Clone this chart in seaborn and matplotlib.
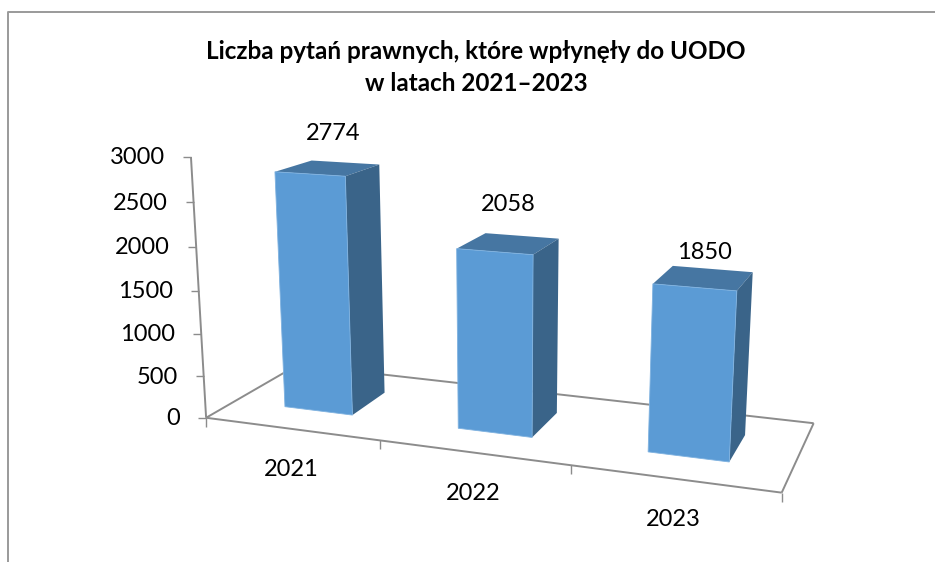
import numpy as np
import pandas as pd
import seaborn as sns
import matplotlib
matplotlib.use("Agg")
import matplotlib.pyplot as plt
from matplotlib.patches import Polygon
from matplotlib.transforms import Affine2D, Transform

years = ["2021", "2022", "2023"]
questions = [2774, 2058, 1850]
y_ticks = [0, 500, 1000, 1500, 2000, 2500, 3000]
title = "Liczba pytań prawnych, które wpłynęły do UODO\nw latach 2021–2023"

# label shift from the middle of the bar's back top edge, Excel places them a bit unevenly
label_shift = [(-12, -29), (-13, -31), (-8, -17)]

# 3d view of the chart: (category, value / 3000, depth, 1) -> screen pixels
camera = np.array([[160.550008, -24.940019, 131.382901, 291.085965],
                   [3.032919, -274.500593, -7.875649, 428.821908],
                   [-0.045668, -0.049455, 0.126706, 1.0]])
z0, z1 = 0.3, 0.7
bar_width = 0.4


def project(x, y, z):
    x, y = np.asarray(x, float), np.asarray(y, float) / 3000
    pts = np.stack([x, y, np.full_like(x, z), np.ones_like(x)])
    u, v, d = camera @ pts
    return np.column_stack([u / d, v / d])


class ChartPlane(Transform):
    input_dims = 2
    output_dims = 2

    def __init__(self, z):
        super().__init__()
        self.z = z

    def transform_non_affine(self, values):
        return project(values[:, 0], values[:, 1], self.z)


sns.set_theme(style="white")
plt.rcParams["font.family"] = ["Lato", "DejaVu Sans"]

fig, ax = plt.subplots(figsize=(9.35, 5.62), dpi=100)
fig.subplots_adjust(0, 0, 1, 1)
ax.set_axis_off()

to_screen = Affine2D().scale(1, -1).translate(0, 562)
grey = "#8c8c8c"


def line(points, lw=1.4, color=grey):
    points = np.asarray(points)
    ax.plot(points[:, 0], points[:, 1], color=color, lw=lw, transform=to_screen,
            clip_on=False, zorder=2, solid_capstyle="butt")


def label(x, y, s, **kw):
    ax.text(x, y, s, transform=to_screen, va="center", color="black", zorder=6, **kw)


df = pd.DataFrame({"year": years, "questions": questions})
sns.barplot(data=df, x="year", y="questions", color="#5B9BD5", saturation=1,
            width=bar_width, ax=ax, legend=False)

for bar, value, shift in zip(ax.patches, questions, label_shift):
    left, right = bar.get_x(), bar.get_x() + bar.get_width()
    bar.set_transform(ChartPlane(z0) + to_screen)
    bar.set_clip_on(False)
    bar.set_zorder(5)
    bar.set_edgecolor("#7fb2e0")
    bar.set_linewidth(0.6)
    top = np.vstack([project([left, right], [value, value], z0),
                     project([right, left], [value, value], z1)])
    side = np.vstack([project([right, right], [0, value], z0),
                      project([right, right], [value, 0], z1)])
    ax.add_patch(Polygon(top, closed=True, fc="#4676A2", ec="none",
                         transform=to_screen, clip_on=False, zorder=4))
    ax.add_patch(Polygon(side, closed=True, fc="#3A6489", ec="none",
                         transform=to_screen, clip_on=False, zorder=4))
    lx, ly = project([(left + right) / 2], [value], z1)[0]
    label(lx + shift[0], ly + shift[1], str(value), ha="center", fontsize=17)

# floor and axes
a, b = project([-.5, 2.5], [0, 0], 0)
c, d = project([-.5, 2.5], [0, 0], 1)
line([a, b])
line([a, c])
line([c, d])
line([b, d])
line(project([-.5, -.5], [0, 3000], 0))
for t in y_ticks:
    p = project([-.5], [t], 0)[0]
    line([p, p - [8, 0]], lw=1)
    label(p[0] - 26, p[1] + 1, str(t), ha="right", fontsize=17)
for i in range(4):
    p = project([i - .5], [0], 0)[0]
    line([p, p + [0, 9]], lw=1)
for i, year in enumerate(years):
    p = project([i], [0], 0)[0]
    label(p[0], p[1] + 41, year, ha="center", fontsize=17)

# chart frame, only top and left are in the crop
line([(8, 562), (8, 11.5), (935, 11.5)], color="#9a9a9a")
label(476, 67.5, title, ha="center", fontsize=17.5, fontweight="bold", linespacing=1.5)

fig.savefig("out.png", dpi=100)
